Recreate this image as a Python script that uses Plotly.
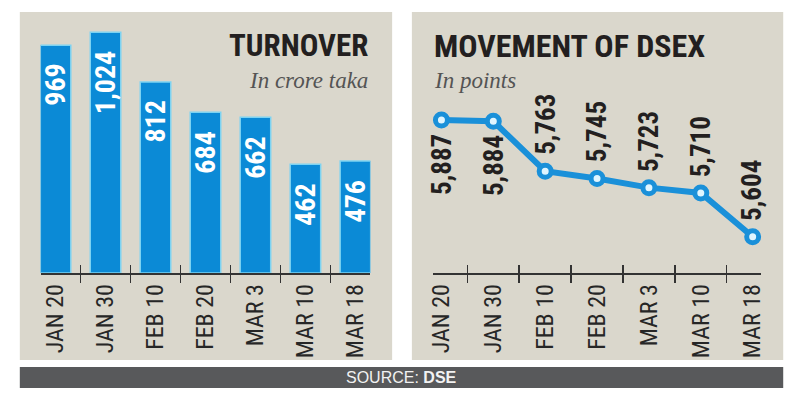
import plotly.graph_objects as go

dates = ["JAN 20", "JAN 30", "FEB 10", "FEB 20", "MAR 3", "MAR 10", "MAR 18"]
turnover = [969, 1024, 812, 684, 662, 462, 476]
dsex = [5887, 5884, 5763, 5745, 5723, 5710, 5604]
dsex_label_side = ["below", "below", "above", "above", "above", "above", "above"]

W, H = 805, 397
def px(x): return x / W
def py(y): return (H - y) / H

PANEL = "#dad7cc"
BLUE = "#0b8ad6"
LINEBLUE = "#1a90d9"
DARK = "#231f20"
NARROW = "Roboto Condensed, DejaVu Sans Condensed, Liberation Sans Narrow, Arial Narrow, Roboto"

fig = go.Figure()

fig.add_trace(go.Bar(
    x=dates, y=turnover, xaxis="x", yaxis="y",
    marker=dict(color=BLUE, line=dict(color="#7dd3f2", width=1.5)),
    width=0.61, hoverinfo="skip", showlegend=False,
))
fig.add_trace(go.Scatter(
    x=dates, y=dsex, xaxis="x2", yaxis="y2", mode="lines+markers",
    line=dict(color=LINEBLUE, width=6),
    marker=dict(size=12, color="#dff5ff", line=dict(color=LINEBLUE, width=5)),
    hoverinfo="skip", showlegend=False,
))
fig.add_trace(go.Scatter(x=[0], y=[0], xaxis="x3", yaxis="y", mode="markers",
                         marker=dict(opacity=0), hoverinfo="skip", showlegend=False))
fig.add_trace(go.Scatter(x=[0], y=[5800], xaxis="x4", yaxis="y2", mode="markers",
                         marker=dict(opacity=0), hoverinfo="skip", showlegend=False))

n = len(dates)
boundaries = [i + 0.5 for i in range(n - 1)]

ydom = [py(273), py(12)]
xdom1 = [px(36), px(370)]
xdom2 = [px(433), px(766)]
xr1 = [-0.3, n - 1 + 0.3]
xr2 = [-0.17, n - 1 + 0.17]

common_x = dict(
    type="category", showline=True, linecolor="#333333", linewidth=1.5,
    ticks="outside", tickson="boundaries", ticklen=8, tickwidth=1.5, tickcolor="#333333",
    tickangle=-90, tickfont=dict(family=NARROW, size=24, color="#262626"),
    showgrid=False, zeroline=False, fixedrange=True,
)
overlay_x = dict(
    type="linear", tickvals=boundaries, ticks="inside", ticklen=8, tickwidth=1.5,
    tickcolor="#333333", showticklabels=False, showline=False, showgrid=False,
    zeroline=False, fixedrange=True,
)

fig.update_layout(
    width=W, height=H, margin=dict(l=0, r=0, t=0, b=0),
    paper_bgcolor="white", plot_bgcolor="rgba(0,0,0,0)",
    xaxis=dict(domain=xdom1, range=xr1, anchor="y", **common_x),
    yaxis=dict(domain=ydom, range=[0, 1110], visible=False, fixedrange=True),
    xaxis2=dict(domain=xdom2, range=xr2, anchor="y2", **common_x),
    yaxis2=dict(domain=ydom, range=[5516, 6149], visible=False, fixedrange=True),
    xaxis3=dict(domain=xdom1, range=xr1, anchor="y", overlaying="x", **overlay_x),
    xaxis4=dict(domain=xdom2, range=xr2, anchor="y2", overlaying="x2", **overlay_x),
)

shapes = [
    dict(type="rect", xref="paper", yref="paper", x0=px(15), x1=px(392), y0=py(360), y1=py(12),
         fillcolor=PANEL, line=dict(width=0), layer="below"),
    dict(type="rect", xref="paper", yref="paper", x0=px(412), x1=px(788), y0=py(360), y1=py(12),
         fillcolor=PANEL, line=dict(width=0), layer="below"),
    dict(type="rect", xref="paper", yref="paper", x0=px(15), x1=px(788), y0=py(388), y1=py(367),
         fillcolor="#58595b", line=dict(width=0), layer="below"),
]

annotations = []
for d, v in zip(dates, turnover):
    annotations.append(dict(
        x=d, y=v, xref="x", yref="y", text=f"{v:,}", showarrow=False,
        textangle=-90, yanchor="top", xanchor="center", yshift=-17,
        font=dict(family=NARROW, size=28, color="white", weight="bold"),
    ))
for d, v, side in zip(dates, dsex, dsex_label_side):
    annotations.append(dict(
        x=d, y=v, xref="x2", yref="y2", text=f"{v:,}", showarrow=False,
        textangle=-90, xanchor="center",
        yanchor="top" if side == "below" else "bottom",
        yshift=-12 if side == "below" else 14,
        font=dict(family=NARROW, size=27, color=DARK, weight="bold"),
    ))

annotations += [
    dict(x=px(370), y=py(46), xref="paper", yref="paper", xanchor="right", yanchor="middle",
         text="<b>TURNOVER</b>", showarrow=False,
         font=dict(family=NARROW, size=31, color=DARK)),
    dict(x=px(370), y=py(81), xref="paper", yref="paper", xanchor="right", yanchor="middle",
         text="<i>In crore taka</i>", showarrow=False,
         font=dict(family="Liberation Serif", size=23, color="#545454")),
    dict(x=px(432), y=py(46), xref="paper", yref="paper", xanchor="left", yanchor="middle",
         text="<b>MOVEMENT OF DSEX</b>", showarrow=False,
         font=dict(family=NARROW, size=32, color=DARK)),
    dict(x=px(432), y=py(81), xref="paper", yref="paper", xanchor="left", yanchor="middle",
         text="<i>In points</i>", showarrow=False,
         font=dict(family="Liberation Serif", size=23, color="#545454")),
    dict(x=px(401), y=py(377.5), xref="paper", yref="paper", xanchor="center", yanchor="middle",
         text="SOURCE: <b>DSE</b>", showarrow=False,
         font=dict(family="Liberation Sans", size=16, color="#f2f2f2")),
]

fig.update_layout(shapes=shapes, annotations=annotations)
fig.write_html(
    "out.html",
    config={"displayModeBar": False, "staticPlot": True},
    post_script="document.body.style.margin='0';document.body.style.overflow='hidden';",
)
